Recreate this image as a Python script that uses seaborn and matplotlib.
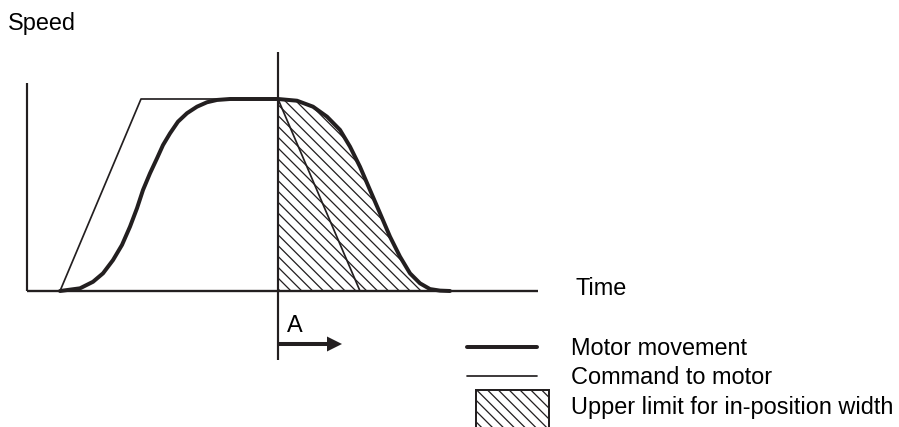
import matplotlib
matplotlib.use("Agg")
import matplotlib.pyplot as plt
import matplotlib.patches as mpatches
from matplotlib.lines import Line2D
from matplotlib.legend_handler import HandlerPatch
import seaborn as sns

# command to motor: trapezoid (time, speed %)
cmd_t = [3.3, 11.4, 25.1, 33.3]
cmd_v = [0, 100, 100, 0]

# motor movement: acceleration S-curve
rise_t = [3.3, 5.3, 6.6, 7.6, 8.6, 9.5, 10.3, 11.0, 11.6, 12.3, 13.0, 13.6,
          14.3, 15.1, 16.0, 17.0, 18.0, 19.0, 20.3]
rise_v = [0, 1.4, 4.8, 9.2, 16.1, 24.0, 33.5, 43.1, 52.6, 61.3, 69.1, 76.0,
          82.1, 88.2, 92.6, 96.0, 98.3, 99.5, 100]

# motor movement: deceleration S-curve (edge of the hatched region)
fall_t = [25.1, 27.0, 28.6, 30.0, 31.3, 32.3, 33.3, 34.3, 35.3, 36.3, 37.3,
          38.3, 39.3, 40.3, 41.3, 42.3]
fall_v = [100, 99.1, 96.0, 90.8, 83.9, 75.2, 64.7, 52.6, 40.5, 28.3, 17.9,
          9.2, 4.0, 1.0, 0.2, 0]

stop_t = 25.1          # command reaches end -> start of in-position check
arrow_len = 6.4

labels = ["Motor movement", "Command to motor", "Upper limit for in-position width"]

INK = "#231f20"
DPI = 130
HATCH = "\\\\\\\\"

sns.set_theme(style="white")
plt.rcParams["font.family"] = ["Liberation Sans", "DejaVu Sans"]
plt.rcParams["hatch.linewidth"] = 0.7

fig = plt.figure(figsize=(899 / DPI, 427 / DPI), dpi=DPI)
ax = fig.add_axes([0, 0, 1, 1])
ax.set_axis_off()
ax.set_xlim(-2.7, 87.2)
ax.set_ylim(-70.83, 151.56)

# axes of the diagram
ax.plot([0, 0], [0, 108.3], color=INK, lw=1.2, solid_capstyle="butt")
ax.plot([0, 51.1], [0, 0], color=INK, lw=1.3, solid_capstyle="butt")
ax.plot([stop_t, stop_t], [-35.9, 124.5], color=INK, lw=1.2, solid_capstyle="butt")

# hatched area under the decelerating motor curve
ax.fill_between(fall_t, 0, fall_v, facecolor="none", edgecolor=INK,
                hatch=HATCH, linewidth=0)

# command (thin) and motor (thick)
sns.lineplot(x=cmd_t, y=cmd_v, ax=ax, color=INK, lw=0.95,
             sort=False, estimator=None)
motor_t = rise_t + fall_t
motor_v = rise_v + fall_v
sns.lineplot(x=motor_t, y=motor_v, ax=ax, color=INK, lw=2.2,
             sort=False, estimator=None, solid_joinstyle="round",
             solid_capstyle="round")

# arrow A
ax.arrow(stop_t, -27.6, arrow_len, 0, width=2.1, head_width=7.8,
         head_length=1.5, length_includes_head=True, color=INK, lw=0)

fs = 13
ax.text(8 / 899, 1 - 30 / 427, "Speed", transform=ax.transAxes,
        fontsize=fs, va="baseline", ha="left", color="black")
ax.text(575 / 899, 1 - 295 / 427, "Time", transform=ax.transAxes,
        fontsize=fs, va="baseline", ha="left", color="black")
ax.text(287 / 899, 1 - 332 / 427, "A", transform=ax.transAxes,
        fontsize=fs, va="baseline", ha="left", color="black")


def tall_box(legend, orig_handle, xdescent, ydescent, width, height, fontsize):
    top = -ydescent + height / 2 + 8.3
    return mpatches.Rectangle((-xdescent + 5, top - 30), 40.4, 30)


handles = [
    Line2D([], [], color=INK, lw=2.2),
    Line2D([], [], color=INK, lw=0.95),
    mpatches.Rectangle((0, 0), 1, 1, facecolor="white", edgecolor=INK,
                       hatch=HATCH, lw=1.1),
]
leg = ax.legend(handles, labels, loc="upper left",
                bbox_to_anchor=(467 / 899, 1 - 337 / 427),
                frameon=False, fontsize=fs, borderpad=0, borderaxespad=0,
                handlelength=3.0, handletextpad=1.45, labelspacing=0.27,
                handler_map={mpatches.Rectangle: HandlerPatch(patch_func=tall_box)})
for t in leg.get_texts():
    t.set_color("black")

fig.savefig("out.png", dpi=DPI)
